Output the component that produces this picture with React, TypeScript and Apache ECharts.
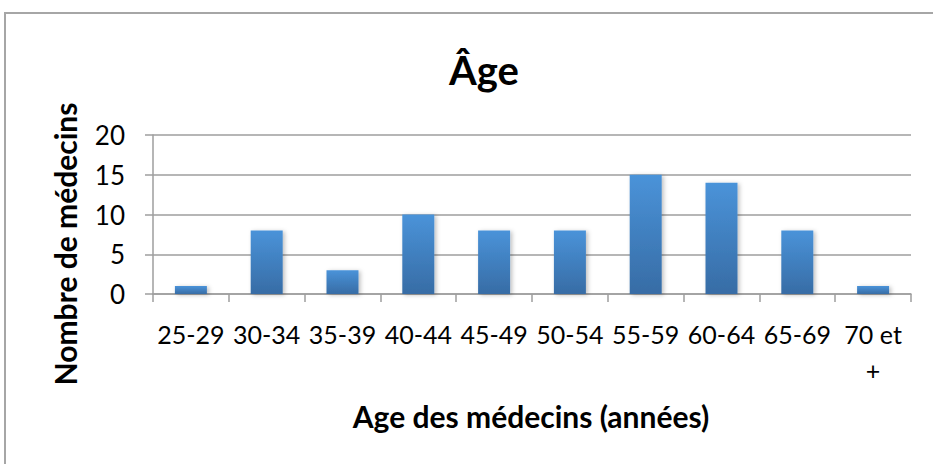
import React, { useEffect, useRef } from "react";
import * as echarts from "echarts";

const categories = ["25-29", "30-34", "35-39", "40-44", "45-49", "50-54", "55-59", "60-64", "65-69", "70 et +"];
const counts = [1, 8, 3, 10, 8, 8, 15, 14, 8, 1];
const titleText = "Âge";
const yName = "Nombre de médecins";
const xName = "Age des médecins (années)";

const FONT = "Lato, 'Open Sans', sans-serif";

export default function App() {
  const ref = useRef<HTMLDivElement>(null);
  useEffect(() => {
    if (!ref.current) return;
    const chart = echarts.init(ref.current, null, { renderer: "svg" });
    chart.setOption({
      animation: false,
      backgroundColor: "#ffffff",
      textStyle: { fontFamily: FONT },
      title: {
        text: titleText,
        left: 479,
        top: 45,
        textAlign: "center",
        textStyle: { fontSize: 40, fontWeight: "bold", color: "#000", fontFamily: FONT },
      },
      grid: { left: 153, right: 22, top: 135, bottom: 170, containLabel: false },
      xAxis: {
        type: "category",
        data: categories,
        axisLine: { show: true, lineStyle: { color: "#9e9e9e", width: 1.5 } },
        axisTick: { show: true, length: 8, lineStyle: { color: "#9e9e9e", width: 1.5 } },
        axisLabel: {
          color: "#000",
          fontSize: 25,
          margin: 22,
          lineHeight: 36,
          interval: 0,
          fontFamily: FONT,
          formatter: (v: string) => v.replace(" +", "\n+"),
        },
      },
      yAxis: {
        type: "value",
        min: 0,
        max: 20,
        interval: 5,
        axisLine: { show: true, lineStyle: { color: "#9e9e9e", width: 1.5 } },
        axisTick: { show: true, length: 8, lineStyle: { color: "#9e9e9e", width: 1.5 } },
        splitLine: { show: true, lineStyle: { color: "#9e9e9e", width: 1.5 } },
        axisLabel: { color: "#000", fontSize: 26, margin: 28, fontFamily: FONT },
      },
      graphic: [
        {
          type: "rect",
          shape: { x: 5, y: 13, width: 940, height: 470 },
          style: { fill: "none", stroke: "#a6a6a6", lineWidth: 2 },
          silent: true,
        },
        {
          type: "text",
          x: 65,
          y: 244,
          rotation: Math.PI / 2,
          style: {
            text: yName,
            fontSize: 30,
            fontWeight: "bold",
            fontFamily: FONT,
            fill: "#000",
            align: "center",
            verticalAlign: "middle",
          },
        },
        {
          type: "text",
          x: 531,
          y: 416,
          style: {
            text: xName,
            fontSize: 30,
            fontWeight: "bold",
            fontFamily: FONT,
            fill: "#000",
            align: "center",
            verticalAlign: "middle",
          },
        },
      ],
      series: [
        {
          type: "bar",
          data: counts,
          barWidth: 32,
          itemStyle: {
            color: new echarts.graphic.LinearGradient(0, 0, 0, 1, [
              { offset: 0, color: "#4a93d9" },
              { offset: 1, color: "#376ca5" },
            ]),
            shadowBlur: 4,
            shadowOffsetX: 2,
            shadowOffsetY: 1,
            shadowColor: "rgba(0,0,0,0.25)",
          },
        },
      ],
    });
    return () => chart.dispose();
  }, []);
  return <div ref={ref} style={{ position: "fixed", left: 0, top: 0, width: 933, height: 464 }} />;
}
